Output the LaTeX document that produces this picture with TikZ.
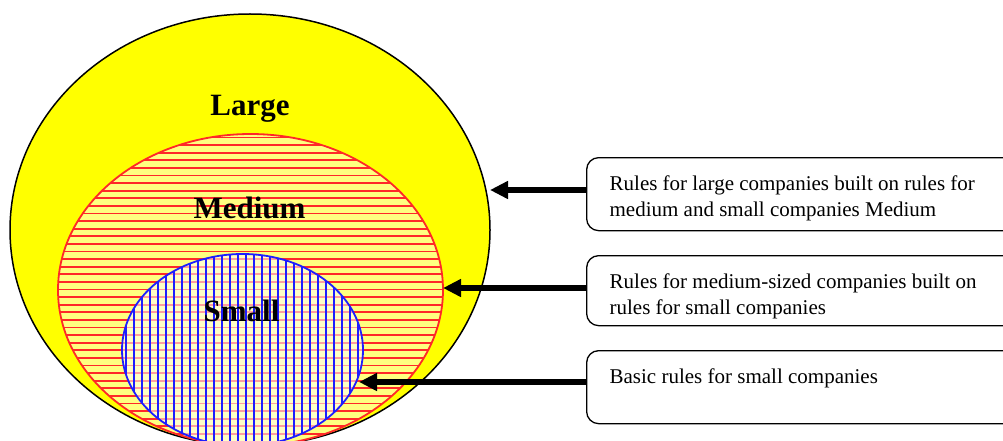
\documentclass[tikz,border=0pt]{standalone}
\usepackage{fontspec}
\setmainfont{Liberation Serif}
\usetikzlibrary{arrows.meta}

\definecolor{bigyellow}{RGB}{255,255,0}
\definecolor{medyellow}{RGB}{255,255,128}
\definecolor{hatchred}{RGB}{255,40,40}
\definecolor{hatchblue}{RGB}{30,30,255}

\tikzset{
  sizelabel/.style={font=\fontsize{31}{36}\selectfont\bfseries, inner sep=0pt, anchor=base},
  rulebox/.style={draw, line width=1.3pt, rounded corners=12pt, anchor=north west,
    inner xsep=23pt, inner ysep=18.5pt, font=\fontsize{21}{26}\selectfont},
  bigarrow/.style={line width=5.5pt, -{Triangle[length=18pt,width=17pt]}}
}

\begin{document}
\begin{tikzpicture}[x=1pt,y=-1pt]
\clip (0,0) rectangle (1003,441);
\fill[white] (0,0) rectangle (1003,441);

% large companies
\draw[fill=bigyellow, line width=1.5pt] (250,230) ellipse [x radius=240, y radius=216];

% medium companies, horizontal hatching
\begin{scope}
\clip (250.5,290) ellipse [x radius=192.5, y radius=156];
\fill[medyellow] (0,0) rectangle (1003,441);
\foreach \y in {137.5,145.1,...,446} \draw[hatchred, line width=1.9pt] (50,\y) -- (450,\y);
\end{scope}
\draw[hatchred, line width=1.8pt] (250.5,290) ellipse [x radius=192.5, y radius=156];

% small companies, vertical hatching
\begin{scope}
\clip (242.5,350) ellipse [x radius=120.5, y radius=96];
\fill[white, fill opacity=0.55] (0,0) rectangle (1003,441);
\foreach \x in {126,134,...,365} \draw[hatchblue, line width=1.5pt] (\x,250) -- (\x,446);
\end{scope}
\draw[hatchblue, line width=1.8pt] (242.5,350) ellipse [x radius=120.5, y radius=96];

\node[sizelabel] (large) at (250,116) {Large};
\node[sizelabel] (medium) at (249.5,218) {Medium};
\node[sizelabel] (small) at (241.5,321.5) {Small};

% rule boxes
\node[rulebox] (rlarge) at (586,157) {\parbox[c][36pt][t]{420pt}{Rules for large companies built on rules for\\ medium and small companies Medium}};
\node[rulebox] (rmedium) at (586,255) {\parbox[c][33pt][t]{420pt}{Rules for medium-sized companies built on\\ rules for small companies}};
\node[rulebox] (rsmall) at (586,350) {\parbox[c][36pt][t]{420pt}{Basic rules for small companies}};

\coordinate (tiplarge) at (490,190);
\coordinate (tipmedium) at (443,288);
\coordinate (tipsmall) at (359,382);

\draw[bigarrow] (rlarge.west |- tiplarge) -- (tiplarge);
\draw[bigarrow] (rmedium.west |- tipmedium) -- (tipmedium);
\draw[bigarrow] (rsmall.west |- tipsmall) -- (tipsmall);
\end{tikzpicture}
\end{document}
